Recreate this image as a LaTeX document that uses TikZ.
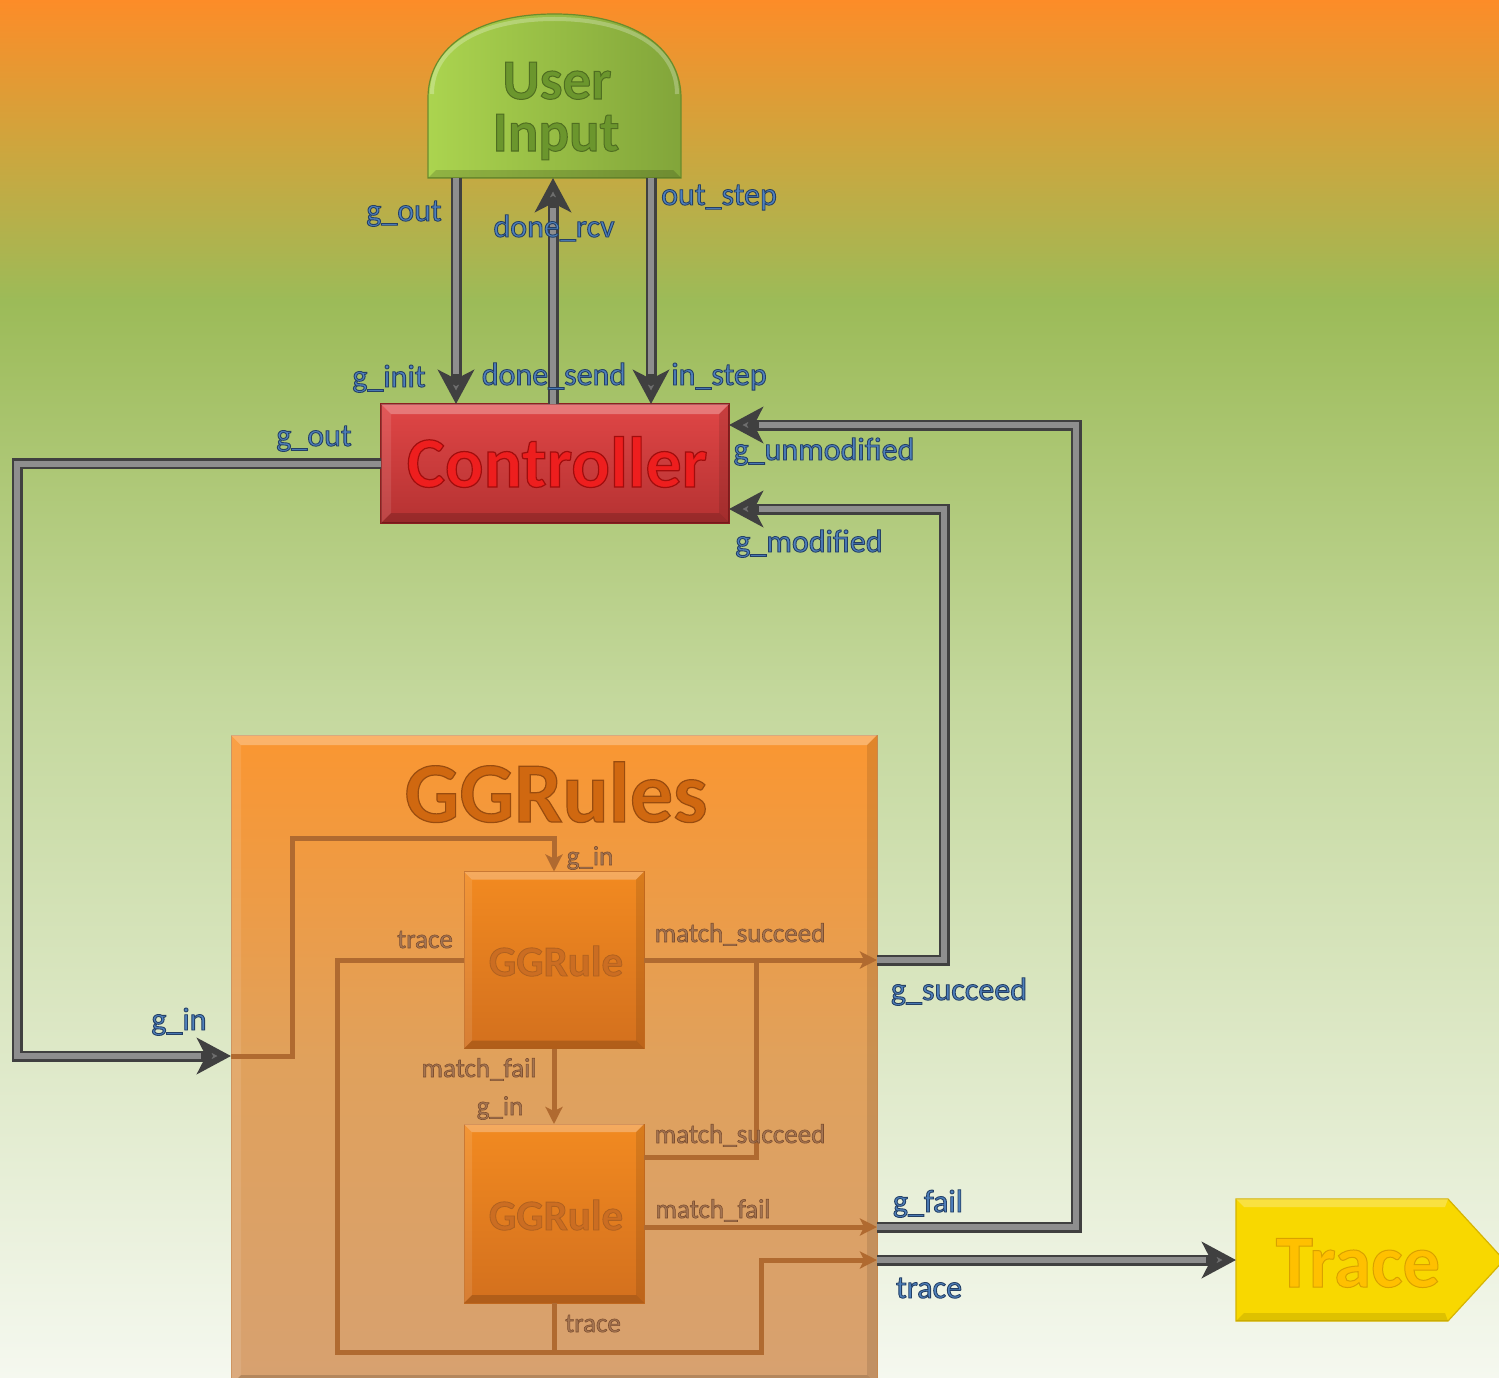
\documentclass[tikz,border=0pt]{standalone}
\usepackage{fontspec}
\setmainfont{Carlito}
\usetikzlibrary{arrows.meta,calc}

% palette
\definecolor{bgA}{HTML}{FD8C28}
\definecolor{bgB}{HTML}{CDA63E}
\definecolor{bgC}{HTML}{9CBB58}
\definecolor{bgD}{HTML}{C4D89D}
\definecolor{bgE}{HTML}{DAE6C1}
\definecolor{bgF}{HTML}{F5F8EF}
\definecolor{uiL}{HTML}{ABD44F}
\definecolor{uiR}{HTML}{82A53A}
\definecolor{uiD}{HTML}{6A8C2C}
\definecolor{uiText}{HTML}{6B962D}
\definecolor{ctTop}{HTML}{E04646}
\definecolor{ctBot}{HTML}{B53232}
\definecolor{ctDraw}{HTML}{8C2020}
\definecolor{ctText}{HTML}{EE1E1E}
\definecolor{grTop}{HTML}{FA9631}
\definecolor{grMid}{HTML}{E0A15C}
\definecolor{grBot}{HTML}{D7A170}
\definecolor{grDraw}{HTML}{C98A50}
\definecolor{grText}{HTML}{D06810}
\definecolor{ruleTop}{HTML}{F28A20}
\definecolor{ruleBot}{HTML}{D3701E}
\definecolor{ruleDraw}{HTML}{C46A1E}
\definecolor{ruleText}{HTML}{CB6D22}
\definecolor{trFill}{HTML}{F8D800}
\definecolor{trDraw}{HTML}{D6B400}
\definecolor{trText}{HTML}{FFC000}
\definecolor{pipeDark}{HTML}{404040}
\definecolor{pipeLight}{HTML}{8E8E8E}
\definecolor{pipeTip}{HTML}{6E6E6E}
\definecolor{wire}{HTML}{B06A30}
\definecolor{blueText}{HTML}{4F81BD}
\definecolor{brownText}{HTML}{A57552}

\pgfdeclareverticalshading{backdrop}{100bp}{color(0bp)=(bgF); color(25bp)=(bgF);
  color(38.7bp)=(bgE); color(49.6bp)=(bgD); color(64.1bp)=(bgC); color(69.6bp)=(bgB);
  color(75bp)=(bgA); color(100bp)=(bgA)}

% glyphs filled in the text colour and stroked with a darker rim
\newcommand\outlined[3]{\special{pdf:literal direct #1 RG #2 w 2 Tr}#3\special{pdf:literal direct 0 Tr}}

\tikzset{
  anchorbox/.style={inner sep=0pt, outer sep=0pt},
  pipe/.style={line width=11pt, draw=pipeDark,
    -{Stealth[length=34pt,width=36pt,inset=9pt,fill=pipeTip]}},
  pipehi/.style={line width=6pt, draw=pipeLight, shorten >=30pt},
  wirearrow/.style={line width=5pt, draw=wire,
    -{Stealth[length=17pt,width=17pt,inset=4pt,fill=wire]}},
  wireplain/.style={line width=5pt, draw=wire},
  bluetag/.style={font=\fontsize{32}{32}\selectfont, inner sep=0pt, anchor=base, text=blueText},
  browntag/.style={font=\fontsize{27}{27}\selectfont, inner sep=0pt, anchor=base, text=brownText},
  title/.style={font=\bfseries\fontsize{#1}{#1}\selectfont, inner sep=0pt, anchor=base},
  bevellight/.style={fill=white, fill opacity=#1},
  beveldark/.style={fill=black, fill opacity=#1},
}

\newcommand\bluelabel[3]{\node[bluetag] (#1) at (#2) {\outlined{0.14 0.25 0.40}{0.9}{#3}};}
\newcommand\brownlabel[3]{\node[browntag] (#1) at (#2) {\outlined{0.49 0.31 0.19}{0.6}{#3}};}

% bevelled rim on a rectangular node: node name, rim width
\newcommand\bevel[2]{%
  \path[bevellight=0.28] (#1.north west) -- (#1.north east) -- ($(#1.north east)+(-#2,#2)$) -- ($(#1.north west)+(#2,#2)$) -- cycle;
  \path[bevellight=0.10] (#1.north west) -- ($(#1.north west)+(#2,#2)$) -- ($(#1.south west)+(#2,-#2)$) -- (#1.south west) -- cycle;
  \path[beveldark=0.10] (#1.north east) -- (#1.south east) -- ($(#1.south east)+(-#2,-#2)$) -- ($(#1.north east)+(-#2,#2)$) -- cycle;
  \path[beveldark=0.16] (#1.south west) -- ($(#1.south west)+(#2,-#2)$) -- ($(#1.south east)+(-#2,-#2)$) -- (#1.south east) -- cycle;}

\begin{document}
\begin{tikzpicture}[x=1pt, y=-1pt]
\useasboundingbox (0,0) rectangle (1499,1378);
\clip (0,0) rectangle (1499,1378);
\shade[shading=backdrop] (0,0) rectangle (1499,1378);

% ---- blocks -------------------------------------------------------------
\node[anchorbox, minimum width=253, minimum height=164] (ui) at (554.5,96) {};
\draw[left color=uiL, right color=uiR, draw=uiD, line width=1.2pt]
  (ui.south west) -- ++(0,-80)
  .. controls +(0,-52) and +(-76,0) .. (ui.north)
  .. controls +(76,0) and +(0,-52) .. ($(ui.south east)+(0,-80)$)
  -- (ui.south east) -- cycle;
\draw[white, opacity=0.25, line width=4pt]
  ($(ui.south west)+(4,-84)$) .. controls +(0,-48) and +(-72,0) .. ($(ui.north)+(0,5)$)
  .. controls +(72,0) and +(0,-48) .. ($(ui.south east)+(-4,-84)$);
\path[beveldark=0.15] (ui.south west) -- ($(ui.south west)+(8,-8)$) -- ($(ui.south east)+(-8,-8)$) -- (ui.south east) -- cycle;

\node[anchorbox, minimum width=348, minimum height=119,
      top color=ctTop, bottom color=ctBot, draw=ctDraw, line width=1.2pt]
  (ctrl) at (555,463.5) {};
\bevel{ctrl}{10}

\node[anchorbox, minimum width=646, minimum height=650,
      top color=grTop, bottom color=grBot, middle color=grMid, draw=grDraw, line width=1pt]
  (ggrules) at (554,1060) {};
\bevel{ggrules}{10}

\node[anchorbox, minimum width=180, minimum height=177,
      top color=ruleTop, bottom color=ruleBot, draw=ruleDraw, line width=1pt]
  (r1) at (554,960) {};
\bevel{r1}{8}
\node[anchorbox, minimum width=180, minimum height=179,
      top color=ruleTop, bottom color=ruleBot, draw=ruleDraw, line width=1pt]
  (r2) at (554,1213.5) {};
\bevel{r2}{8}

\node[anchorbox, minimum width=212, minimum height=122] (tracebox) at (1342,1260) {};
\draw[fill=trFill, draw=trDraw, line width=1.2pt]
  (tracebox.north west) -- (tracebox.north east) -- ($(tracebox.east)+(56,0)$)
  -- (tracebox.south east) -- (tracebox.south west) -- cycle;
\path[bevellight=0.25] (tracebox.north west) -- (tracebox.north east) -- ($(tracebox.north east)+(-3,8)$) -- ($(tracebox.north west)+(8,8)$) -- cycle;
\path[beveldark=0.10] (tracebox.south west) -- ($(tracebox.south west)+(8,-8)$) -- ($(tracebox.south east)+(-3,-8)$) -- (tracebox.south east) -- cycle;

% ---- routing coordinates -----------------------------------------------
\coordinate (x1) at (456,0);
\coordinate (x2) at (553,0);
\coordinate (x3) at (651,0);
\coordinate (xL) at (17,0);
\coordinate (xM) at (944,0);
\coordinate (xU) at (1076,0);
\coordinate (yIn) at (0,1056);
\coordinate (yU) at (0,425);
\coordinate (yM) at (0,509);
\coordinate (yF) at (0,1227);
\coordinate (yT) at (0,1260);
\coordinate (xg) at (292,0);
\coordinate (yg) at (0,838);
\coordinate (xt) at (337,0);
\coordinate (yb) at (0,1352);
\coordinate (xb) at (761,0);
\coordinate (xs) at (756,0);
\coordinate (ys) at (0,1157);

% ---- wiring inside GGRules ---------------------------------------------
\draw[wirearrow] (ggrules.west |- yIn) -- (xg |- yIn) -- (xg |- yg) -- (r1.north |- yg) -- (r1.north);
\draw[wirearrow] (r1.east) -- (ggrules.east |- r1.east);
\draw[wireplain] (r2.east |- ys) -- (xs |- ys) -- (xs |- r1.east);
\draw[wirearrow] (r1.south) -- (r2.north);
\draw[wirearrow] (r2.east |- yF) -- (ggrules.east |- yF);
\draw[wirearrow] (r1.west) -- (xt |- r1.west) -- (xt |- yb) -- (xb |- yb) -- (xb |- yT) -- (ggrules.east |- yT);
\draw[wireplain] (r2.south) -- (r2.south |- yb);

% ---- connectors between blocks -------------------------------------------
\draw[pipe]   (x1 |- ui.south) -- (x1 |- ctrl.north);
\draw[pipehi] (x1 |- ui.south) -- (x1 |- ctrl.north);
\draw[pipe]   (x2 |- ctrl.north) -- (x2 |- ui.south);
\draw[pipehi] (x2 |- ctrl.north) -- (x2 |- ui.south);
\draw[pipe]   (x3 |- ui.south) -- (x3 |- ctrl.north);
\draw[pipehi] (x3 |- ui.south) -- (x3 |- ctrl.north);

\draw[pipe]   (ctrl.west) -- (xL |- ctrl.west) -- (xL |- yIn) -- (ggrules.west |- yIn);
\draw[pipehi] (ctrl.west) -- (xL |- ctrl.west) -- (xL |- yIn) -- (ggrules.west |- yIn);

\draw[pipe]   (ggrules.east |- r1.east) -- (xM |- r1.east) -- (xM |- yM) -- (ctrl.east |- yM);
\draw[pipehi] (ggrules.east |- r1.east) -- (xM |- r1.east) -- (xM |- yM) -- (ctrl.east |- yM);

\draw[pipe]   (ggrules.east |- yF) -- (xU |- yF) -- (xU |- yU) -- (ctrl.east |- yU);
\draw[pipehi] (ggrules.east |- yF) -- (xU |- yF) -- (xU |- yU) -- (ctrl.east |- yU);

\draw[pipe]   (ggrules.east |- yT) -- (tracebox.west);
\draw[pipehi] (ggrules.east |- yT) -- (tracebox.west);

% ---- block titles ---------------------------------------------------------
\node[title=57, text=uiText] (tUser) at (557,99) {\outlined{0.31 0.43 0.13}{1.0}{User}};
\node[title=57, text=uiText] (tInput) at (556,151) {\outlined{0.31 0.43 0.13}{1.0}{Input}};
\node[title=72, text=ctText] (tCtrl) at (557,487) {\outlined{0.63 0.05 0.05}{1.2}{Controller}};
\node[title=86, text=grText] (tRules) at (556,822) {\outlined{0.60 0.30 0.06}{1.2}{GGRules}};
\node[title=43, text=ruleText] (tRule1) at (556,976) {\outlined{0.69 0.38 0.12}{0.8}{GGRule}};
\node[title=43, text=ruleText] (tRule2) at (556,1230) {\outlined{0.69 0.38 0.12}{0.8}{GGRule}};
\node[title=75, text=trText] (tTrace) at (1358,1287) {\outlined{0.85 0.63 0.00}{1.0}{Trace}};

% ---- port labels ------------------------------------------------------------
\bluelabel{lGout}{404,221}{g\_out}
\bluelabel{lDoneRcv}{554,237}{done\_rcv}
\bluelabel{lOutStep}{719,205}{out\_step}
\bluelabel{lGinit}{389,387}{g\_init}
\bluelabel{lDoneSend}{554,385}{done\_send}
\bluelabel{lInStep}{719,385}{in\_step}
\bluelabel{lGoutC}{314,446}{g\_out}
\bluelabel{lGunmod}{824,460}{g\_unmodified}
\bluelabel{lGmod}{809,552}{g\_modified}
\bluelabel{lGin}{179,1030}{g\_in}
\bluelabel{lGsucc}{959,1000}{g\_succeed}
\bluelabel{lGfail}{928,1212}{g\_fail}
\bluelabel{lTrace}{929,1298}{trace}

\brownlabel{bGin1}{590,865}{g\_in}
\brownlabel{bTrace1}{425,948}{trace}
\brownlabel{bSucc1}{740,942}{match\_succeed}
\brownlabel{bFail1}{479,1077}{match\_fail}
\brownlabel{bGin2}{500,1115}{g\_in}
\brownlabel{bSucc2}{740,1143}{match\_succeed}
\brownlabel{bFail2}{713,1218}{match\_fail}
\brownlabel{bTrace2}{593,1332}{trace}
\end{tikzpicture}
\end{document}
